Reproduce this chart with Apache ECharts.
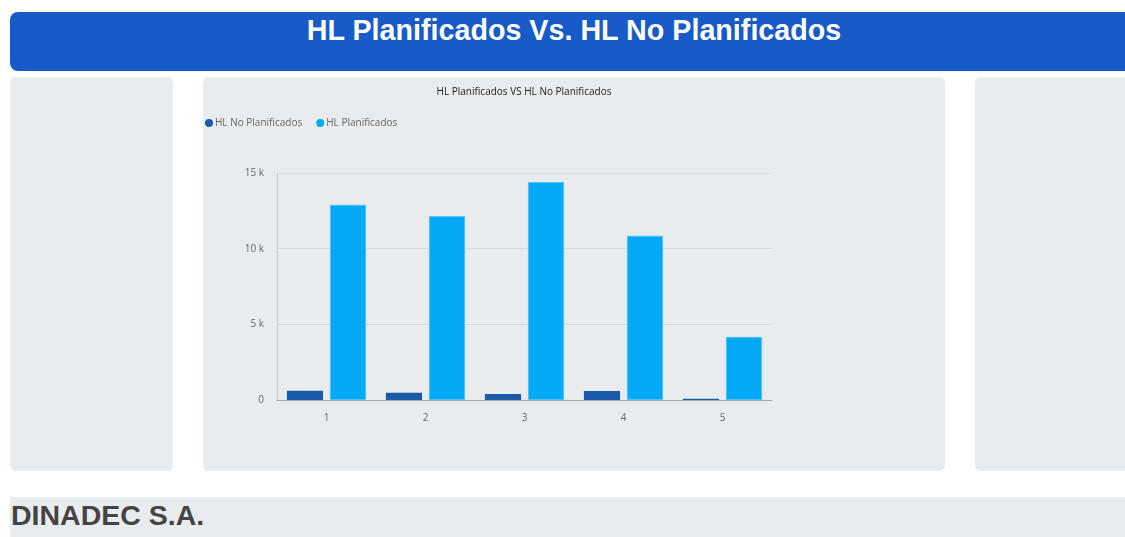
<!DOCTYPE html>
<html>
<head>
<meta charset="utf-8">
<script src="https://cdn.jsdelivr.net/npm/echarts@6/dist/echarts.min.js"></script>
<style>
  body { margin: 0; background: #fff; width: 1125px; height: 537px; overflow: hidden; position: relative; font-family: "Liberation Sans", Arial, sans-serif; }
  .header { position: absolute; left: 10px; top: 12px; width: 1130px; height: 59px; background: #185ac7; border-radius: 8px; color: #fff; font-weight: bold; font-size: 28.7px; text-align: center; line-height: 36px; }
  .header span { position: absolute; left: 0; width: 1128px; top: 0; }
  .panel { position: absolute; top: 77px; height: 394px; background: #e9ecee; border-radius: 6px; }
  .footer { position: absolute; left: 10px; top: 497px; width: 1130px; height: 45px; background: #e9ecee; color: #444; font-weight: bold; font-size: 28.5px; line-height: 37px; padding-left: 1px; }
  #chart { position: absolute; left: 203px; top: 77px; width: 742px; height: 394px; }
</style>
</head>
<body>
<div class="header"><span>HL Planificados Vs. HL No Planificados</span></div>
<div class="panel" style="left:10px;width:163px"></div>
<div class="panel" style="left:203px;width:742px"></div>
<div class="panel" style="left:975px;width:160px"></div>
<div class="footer">DINADEC S.A.</div>
<div id="chart"></div>
<script>
var categories = ['1', '2', '3', '4', '5'];
var noPlanificados = [615, 480, 400, 595, 80];
var planificados = [12900, 12150, 14400, 10850, 4170];
var yTicks = [0, 5000, 10000, 15000];

var myChart = echarts.init(document.getElementById('chart'));

var option = {
    backgroundColor: 'transparent',
    textStyle: { fontFamily: '"Open Sans", "Noto Sans", sans-serif' },
    title: {
        text: 'HL Planificados VS HL No Planificados',
        left: 316,
        top: 5,
        textAlign: 'center',
        textStyle: { fontSize: 10, fontWeight: 'normal', color: '#222' }
    },
    legend: {
        data: ['HL No Planificados', 'HL Planificados'],
        left: -3,
        top: 36,
        icon: 'circle',
        itemWidth: 8,
        itemHeight: 8,
        itemGap: 14,
        itemStyle: { borderWidth: 0 },
        textStyle: { fontSize: 10, color: '#666', padding: [0, 0, 0, -3] }
    },
    grid: {
        left: 74,
        right: 173,
        top: 96,
        bottom: 71
    },
    xAxis: {
        type: 'category',
        data: categories,
        axisLine: { lineStyle: { color: '#a9abad' } },
        axisTick: { alignWithLabel: true, length: 4, lineStyle: { color: '#a9abad' } },
        axisLabel: { color: '#666', fontSize: 10, margin: 13 }
    },
    yAxis: {
        type: 'value',
        min: yTicks[0],
        max: yTicks[yTicks.length - 1],
        interval: 5000,
        axisLine: { show: true, lineStyle: { color: '#c4c6c8' } },
        splitLine: { lineStyle: { color: '#d6d9db' } },
        axisLabel: {
            color: '#666', fontSize: 10, margin: 13,
            formatter: function (v) { return v === 0 ? '0' : (v / 1000) + ' k'; }
        }
    },
    series: [
        {
            name: 'HL No Planificados',
            type: 'bar',
            data: noPlanificados,
            barGap: '19%',
            barCategoryGap: '20%',
            itemStyle: { color: '#1a5aa6' }
        },
        {
            name: 'HL Planificados',
            type: 'bar',
            data: planificados,
            itemStyle: { color: '#03a9f4', borderColor: '#4cc3f8', borderWidth: 1 }
        }
    ]
};

myChart.setOption(option);
</script>
</body>
</html>
